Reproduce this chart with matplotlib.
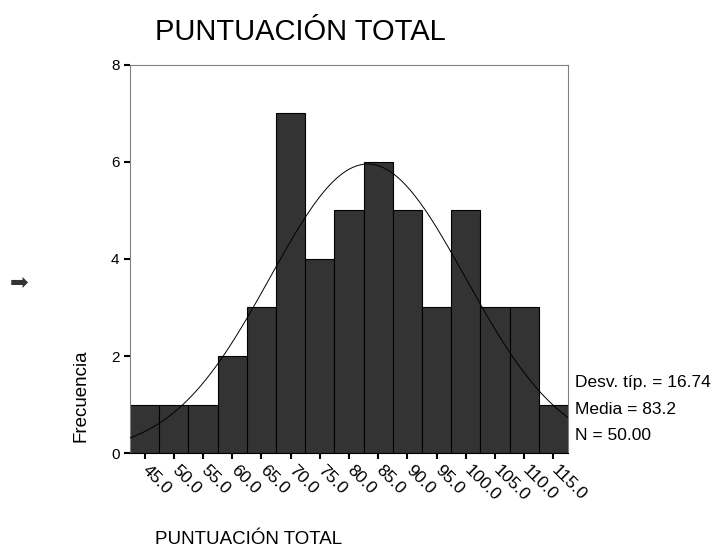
import numpy as np
import matplotlib
matplotlib.use("Agg")
from matplotlib import pyplot
from matplotlib.transforms import ScaledTranslation

pyplot.rcParams['font.family'] = ['Liberation Sans', 'DejaVu Sans']

# histogram data (bin midpoints and counts)
bin_mids = [45, 50, 55, 60, 65, 70, 75, 80, 85, 90, 95, 100, 105, 110, 115]
counts = [1, 1, 1, 2, 3, 7, 4, 5, 6, 5, 3, 5, 3, 3, 1]
tick_labels = [f"{m:.1f}" for m in bin_mids]
bin_width = 5
mean, sd, n = 83.2, 16.74, 50

figure = pyplot.figure(figsize=(7.17, 5.54), dpi=100)
axis = figure.add_axes([0.1813, 0.1823, 0.6109, 0.7004])

axis.bar(bin_mids, counts, width=bin_width, color='#333333', edgecolor='black',
         linewidth=0.8, zorder=2)

# fitted normal curve
xs = np.linspace(42.5, 117.5, 300)
ys = n * bin_width / (sd * np.sqrt(2 * np.pi)) * np.exp(-0.5 * ((xs - mean) / sd) ** 2)
axis.plot(xs, ys, color='black', linewidth=0.7, zorder=3)

axis.set_xlim(42.5, 117.5)
axis.set_ylim(0, 8)
axis.set_yticks([0, 2, 4, 6, 8])
axis.set_xticks(bin_mids)
axis.set_xticklabels([])
# rotated x labels, nudged right of their ticks
shift = ScaledTranslation(6 / 100, -10 / 100, figure.dpi_scale_trans)
for m, lab in zip(bin_mids, tick_labels):
    axis.text(m, 0, lab, transform=axis.get_xaxis_transform() + shift,
              rotation=-45, ha='left', va='top', rotation_mode='anchor',
              fontsize=12.5)
axis.tick_params(axis='y', labelsize=11, length=4, width=1.5, direction='out')
axis.tick_params(axis='x', length=4, width=1.5, direction='out')
for side in ('left', 'top', 'right'):
    axis.spines[side].set_color('#808080')
axis.spines['bottom'].set_color('black')

figure.text(155 / 717, 1 - 32 / 554, "PUNTUACIÓN TOTAL", fontsize=21,
            ha='left', va='center')
figure.text(155 / 717, 1 - 540 / 554, "PUNTUACIÓN TOTAL", fontsize=13.5,
            ha='left', va='center')
figure.text(81 / 717, 1 - 396 / 554, "Frecuencia", fontsize=13.5, rotation=90,
            ha='center', va='center')
figure.text(19 / 717, 1 - 283 / 554, "➡", fontsize=16, ha='center', va='center',
            family='DejaVu Sans', color='#333333')

stats = ["Desv. típ. = 16.74", "Media = 83.2", "N = 50.00"]
for i, s in enumerate(stats):
    figure.text(575 / 717, 1 - (382 + 27 * i) / 554, s, fontsize=12.5,
                ha='left', va='center')

figure.savefig("out.png", dpi=100)
